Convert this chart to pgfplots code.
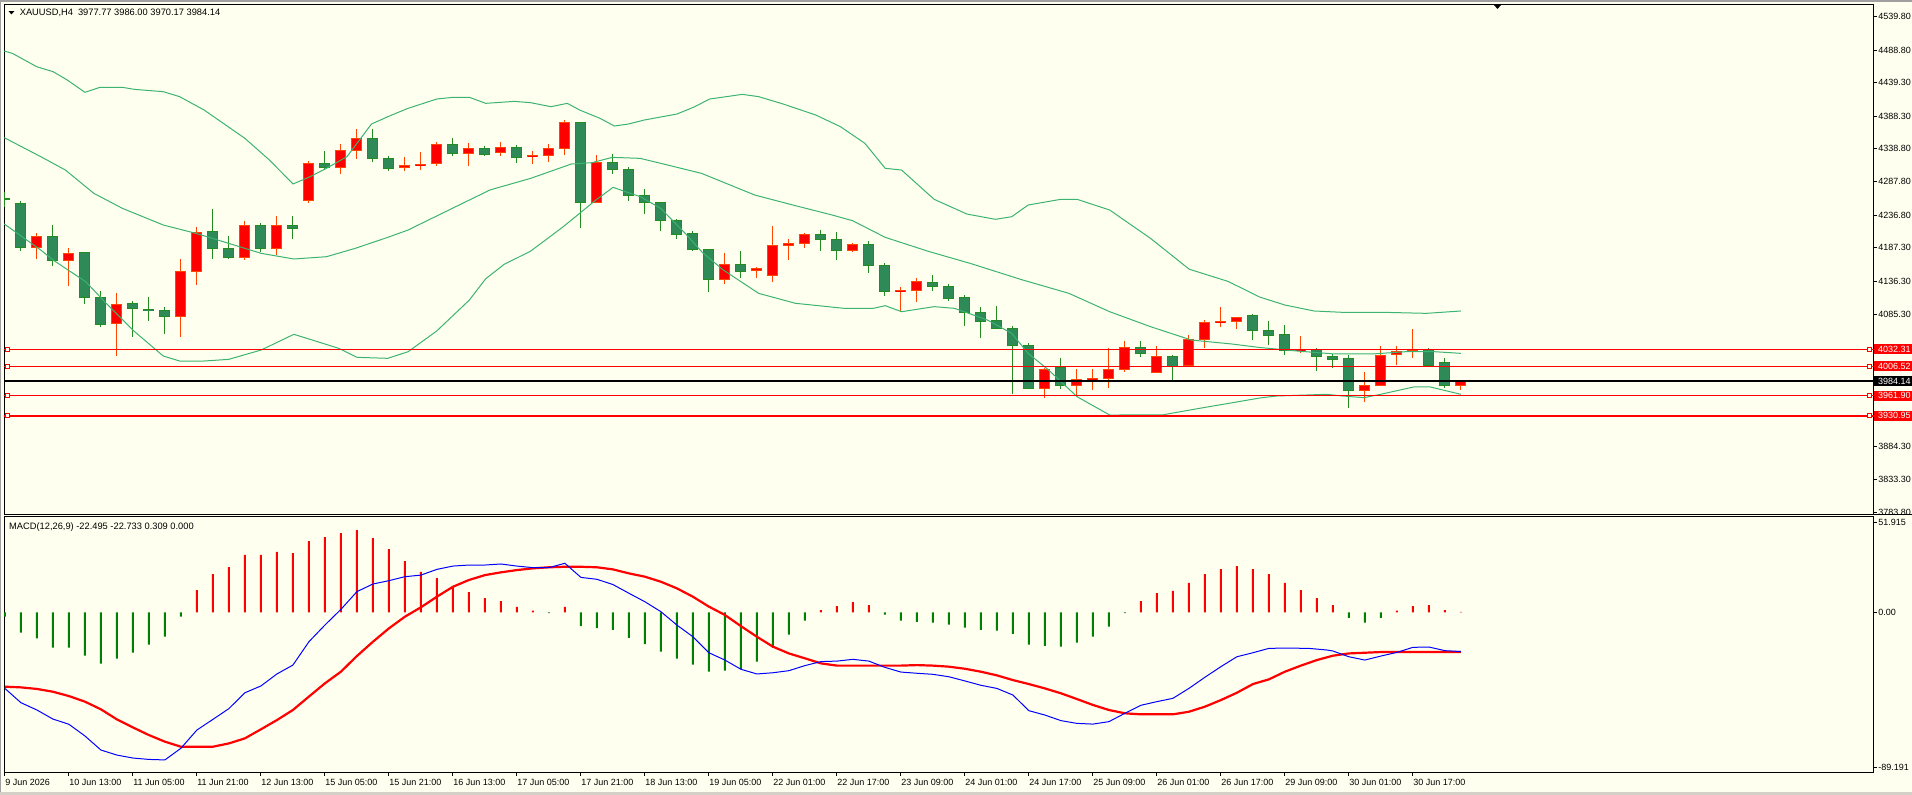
\documentclass[border=0pt]{standalone}
\usepackage{pgfplots}
\usepackage{pgfplotstable}
\pgfplotsset{compat=1.18}
\usepackage{fontspec}
\newfontfamily\mtfont{Liberation Sans}

\definecolor{chartbg}{HTML}{FFFFF0}
\definecolor{framegray}{HTML}{A0A0A0}
\definecolor{framelight}{HTML}{D4D0C8}
\definecolor{bbgreen}{HTML}{3CB371}
\definecolor{upfill}{HTML}{FF0000}
\definecolor{upline}{HTML}{FF4500}
\definecolor{dnfill}{HTML}{2E8B57}
\definecolor{dnline}{HTML}{228B22}
\definecolor{levelred}{HTML}{FF0000}
\definecolor{histgreen}{HTML}{008000}
\definecolor{macdblue}{HTML}{0000FF}

% H4 bars, index = bar number from 9 Jun 21:00
% bars that closed above their open
\pgfplotstableread{
i o h l c
2 4188.0 4210.3 4170.2 4204.7
4 4167.6 4186.4 4129.5 4178.8
7 4072.1 4118.3 4022.2 4101.0
11 4082.7 4170.2 4051.7 4151.4
12 4151.4 4219.5 4131.0 4210.8
15 4172.2 4228.1 4169.2 4221.5
17 4185.9 4235.8 4175.8 4221.5
19 4259.2 4319.1 4256.1 4316.1
21 4310.0 4345.6 4300.3 4335.9
22 4335.9 4368.5 4323.2 4354.7
25 4310.0 4325.7 4304.9 4313.0
26 4312.5 4333.4 4306.4 4315.0
27 4315.6 4348.1 4312.5 4345.1
29 4330.8 4346.6 4312.5 4338.9
31 4332.3 4348.6 4327.3 4341.0
33 4326.8 4334.9 4315.6 4328.8
34 4328.3 4345.6 4318.1 4339.0
35 4339.0 4382.2 4328.8 4378.6
37 4256.1 4328.3 4256.1 4318.1
45 4138.6 4179.3 4132.6 4162.0
47 4151.9 4158.5 4141.7 4156.4
48 4145.3 4220.5 4135.6 4191.0
49 4190.5 4200.7 4168.6 4194.1
50 4193.6 4209.8 4187.0 4207.8
53 4183.4 4194.6 4180.9 4192.5
56 4120.3 4127.0 4090.9 4122.9
57 4121.9 4141.2 4105.1 4136.1
65 3972.4 4003.9 3958.7 4001.9
67 3977.5 4002.4 3962.2 3986.6
68 3986.1 4002.4 3970.4 3988.7
69 3987.6 4033.9 3973.4 4001.9
70 4001.4 4045.1 3997.8 4035.4
72 3997.3 4037.0 3997.3 4021.7
74 4007.5 4053.7 4007.5 4047.6
75 4047.6 4077.6 4034.9 4074.1
76 4073.6 4097.0 4066.5 4075.6
77 4075.1 4080.7 4063.9 4080.7
81 4030.4 4052.7 4027.3 4032.4
85 3969.4 3997.8 3952.6 3977.5
86 3977.5 4037.0 3977.5 4023.2
87 4024.8 4037.0 4008.5 4028.8
88 4028.8 4063.4 4019.7 4031.4
91 3977.77 3986.00 3970.17 3984.14
}\upbars

% bars that closed below their open
\pgfplotstableread{
i o h l c
0 4262.0 4272.9 4250.0 4261.0
1 4255.6 4258.1 4182.9 4188.0
3 4204.7 4222.0 4160.0 4167.6
5 4180.8 4181.5 4101.0 4111.2
6 4112.2 4121.4 4067.0 4070.0
8 4103.1 4106.1 4051.7 4094.4
9 4093.4 4112.2 4076.1 4091.4
10 4091.9 4097.0 4056.3 4082.7
13 4212.9 4246.4 4170.7 4185.9
14 4186.4 4204.7 4170.2 4172.2
16 4221.5 4225.1 4180.9 4185.9
18 4221.5 4235.8 4201.2 4216.4
20 4316.6 4334.9 4306.9 4309.5
23 4354.7 4368.5 4318.1 4323.2
24 4323.7 4326.8 4304.9 4308.0
28 4345.1 4354.7 4327.8 4330.8
30 4339.5 4342.5 4327.3 4328.8
32 4341.0 4344.1 4316.6 4324.7
36 4378.6 4378.6 4218.0 4256.1
38 4317.6 4330.3 4300.3 4306.4
39 4307.0 4310.0 4259.2 4266.8
40 4266.8 4276.9 4239.3 4256.1
41 4256.6 4256.6 4213.4 4228.6
42 4229.1 4231.7 4201.2 4207.3
43 4209.3 4212.9 4182.9 4184.9
44 4184.9 4186.0 4120.3 4138.6
46 4162.0 4182.4 4141.7 4150.9
51 4207.8 4214.4 4182.9 4199.7
52 4200.7 4211.4 4168.6 4182.9
54 4192.5 4197.6 4149.3 4160.0
55 4160.5 4163.6 4114.2 4120.3
58 4134.6 4145.8 4121.3 4128.0
59 4129.0 4132.0 4106.6 4109.7
60 4112.2 4115.3 4068.0 4088.3
61 4089.3 4096.5 4050.2 4074.6
62 4076.6 4098.5 4063.9 4063.9
63 4065.0 4067.5 3964.3 4038.0
64 4038.5 4041.5 3972.4 3972.4
66 4005.4 4018.7 3971.4 3977.0
71 4035.4 4045.1 4020.7 4025.8
73 4021.7 4023.7 3983.1 4006.5
78 4084.3 4086.3 4047.1 4061.4
79 4061.4 4075.6 4039.0 4053.2
80 4055.3 4069.5 4023.8 4030.9
82 4031.9 4034.9 4000.0 4021.2
83 4021.7 4024.8 4004.4 4017.1
84 4018.7 4023.8 3943.4 3969.4
89 4031.9 4033.9 4007.0 4007.0
90 4012.6 4019.7 3973.9 3977.0
}\downbars

\pgfplotsset{
  mtpanel/.style={
    scale only axis, anchor=south west, width=1869.55pt,
    xmin=-0.04375, xmax=116.803,
    axis line style={black, line width=1pt},
    clip mode=individual,
    tick align=outside,
    ytick pos=right, yticklabel pos=right,
    major tick length=3.5pt,
    tick style={black, line width=0.8pt},
    tick label style={font=\mtfont\fontsize{9}{10}\selectfont, inner sep=0pt, text=black},
    yticklabel style={anchor=west, xshift=1pt},
  },
  errcol/.style 2 args={draw=none, mark=none,
    error bars/y dir=plus, error bars/y explicit, error bars/error mark=none,
    error bars/error bar style={draw=#1, line width=#2}},
  bb/.style={bbgreen, line width=1pt, mark=none},
  level/.style={levelred, line width=1.3pt, mark=none},
  levelsq/.style={only marks, mark=square*, mark size=2pt,
    mark options={draw=levelred, fill=chartbg, line width=0.9pt}},
}
\tikzset{
  pricebox/.style={anchor=west, inner xsep=4.2pt, inner ysep=0pt, minimum height=10pt,
    text=white, font=\mtfont\fontsize{9}{10}\selectfont},
}

\begin{document}
\begin{tikzpicture}[x=1pt,y=1pt]
\useasboundingbox (0,0) rectangle (1912,795);
\fill[chartbg] (0,0) rectangle (1912,795);
% window frame
\fill[framegray] (0,793.3) rectangle (1912,795);
\fill[framegray] (0,0) rectangle (1.4,795);
\fill[framelight] (0,0) rectangle (1912,2.6);

% ---------- price window ----------
\begin{axis}[mtpanel, at={(4.2pt,280pt)}, height=510.7pt,
  ymin=3779.74, ymax=4558.67,
  xtick=\empty,
  ytick={3783.8,3833.3,3884.3,4085.3,4136.3,4187.3,4236.8,4287.8,4338.8,4388.3,4439.3,4488.8,4539.8},
  yticklabels={3783.80,3833.30,3884.30,4085.30,4136.30,4187.30,4236.80,4287.80,4338.80,4388.30,4439.30,4488.80,4539.80},
]
% wicks
\addplot[errcol={upline}{1pt}] table[x=i, y=l, y error plus expr=\thisrow{h}-\thisrow{l}] {\upbars};
\addplot[errcol={dnline}{1pt}] table[x=i, y=l, y error plus expr=\thisrow{h}-\thisrow{l}] {\downbars};
% bodies: outline, then fill
\addplot[errcol={upline}{11pt}] table[x=i, y expr=\thisrow{o}-0.6, y error plus expr=\thisrow{c}-\thisrow{o}+1.2] {\upbars};
\addplot[errcol={upfill}{9pt}] table[x=i, y expr=\thisrow{o}+0.9, y error plus expr={max(\thisrow{c}-\thisrow{o}-1.8,0)}] {\upbars};
\addplot[errcol={dnline}{11pt}] table[x=i, y expr=\thisrow{c}-0.6, y error plus expr=\thisrow{o}-\thisrow{c}+1.2] {\downbars};
\addplot[errcol={dnfill}{9pt}] table[x=i, y expr=\thisrow{c}+0.9, y error plus expr={max(\thisrow{o}-\thisrow{c}-1.8,0)}] {\downbars};

% Bollinger bands
\addplot[bb] coordinates {(-0.04,4487.4) (0.46,4483.9) (1.99,4463.5) (3.01,4455.9) (3.9,4443.2) (5,4424.4) (5.94,4432) (7.35,4432) (8.11,4428.9) (9.9,4425.4) (10.92,4417.8) (12.45,4397.4) (15,4354.2) (16.53,4321.2) (18.01,4284.6) (19.08,4295.8) (20.1,4308.5) (21.38,4326.3) (22.91,4376.1) (24.18,4389.8) (25.2,4400) (26.99,4414.2) (28.01,4416.8) (29.03,4416.8) (30.05,4407.6) (31.84,4410.6) (32.86,4408.6) (34.13,4402.5) (35.15,4407.6) (35.92,4397.4) (37.2,4384.7) (38.09,4373) (38.98,4376.1) (39.97,4382.2) (42,4391.3) (43.03,4401.5) (44.05,4414.2) (46.09,4421.3) (47.11,4417.8) (48.64,4406.6) (50.68,4389.8) (52.22,4372) (53.75,4346.6) (55.02,4308.5) (56.04,4305.9) (58.08,4261.2) (60.12,4238.8) (61.91,4230.7) (62.93,4234.7) (63.95,4252.5) (65.99,4261.2) (67.01,4261.2) (69.05,4244.9) (71.6,4201.7) (74.02,4154.6) (76.45,4136) (78.44,4112) (80,4100) (81.82,4090.9) (83.64,4088.8) (86.24,4088.8) (88.84,4087.3) (91,4090.9)};
\addplot[bb] coordinates {(-0.04,4355.2) (2.24,4326.3) (3.78,4305.9) (5.56,4270.3) (7.35,4247.4) (9.9,4222) (11.94,4209.3) (13.98,4194.1) (16.02,4178.8) (18.06,4170.2) (20.1,4173.7) (21.89,4186.4) (23.93,4203.2) (25.2,4214.4) (27.75,4244.9) (30.31,4275.4) (32.86,4293.2) (35.41,4315.1) (36.69,4317.1) (37.96,4325.2) (39.7,4323.7) (40.99,4316.1) (43.54,4300.8) (46.86,4267.8) (49.41,4251.5) (51.7,4237.3) (52.98,4228.6) (55.02,4203.2) (57.7,4182) (60.4,4163) (63.5,4139) (66.5,4117.8) (69.05,4089.8) (71.6,4067) (74.15,4046.6) (76.7,4040.5) (78.44,4035.2) (80.78,4029.8) (83.12,4025.3) (85.46,4025.3) (87.54,4028.8) (89.35,4028.8) (91,4026.3)};
\addplot[bb] coordinates {(-0.04,4223.6) (2.24,4183.9) (3.01,4168.6) (5.05,4135.6) (6.33,4102.6) (8.11,4059.3) (9.9,4022.2) (10.92,4014.6) (12.45,4014.6) (13.98,4017.1) (16.02,4031.4) (18.06,4055.3) (19.08,4047.6) (20.87,4033.9) (22.01,4020.2) (23.93,4018.7) (25.2,4028.8) (26.99,4060.4) (29.03,4107.6) (30.05,4140) (31.2,4162) (32.86,4182.2) (34.9,4219.5) (35.92,4239.8) (36.94,4260.2) (38.01,4279.5) (38.98,4271.3) (39.72,4265.2) (40.99,4247.4) (42.52,4209.3) (43.6,4180) (44.9,4153.4) (47.11,4117.8) (49.41,4102.6) (52.47,4094.9) (54.26,4094.9) (55.02,4099) (56.04,4089.8) (58.08,4097.5) (59.36,4094.9) (61.4,4077.2) (62.93,4056.8) (63.95,4026.3) (65.23,4000.9) (67.01,3960.2) (69.05,3932.2) (72.37,3932.5) (74.66,3942.4) (78.44,3958.2) (79.48,3961.2) (82.6,3963.8) (83.64,3961.2) (84.94,3958.7) (85.98,3963.8) (88.05,3975) (89.09,3975) (89.87,3970.4) (91,3963.8)};

% horizontal levels
\addplot[level] coordinates {(-1,4032.31) (118,4032.31)};
\addplot[level] coordinates {(-1,4006.52) (118,4006.52)};
\addplot[level] coordinates {(-1,3961.90) (118,3961.90)};
\addplot[level] coordinates {(-1,3930.95) (118,3930.95)};
\addplot[levelsq] coordinates {(0.15,4032.31) (116.54,4032.31) (0.15,4006.52) (116.54,4006.52) (0.15,3961.90) (116.54,3961.90) (0.15,3930.95) (116.54,3930.95)};
% bid line
\addplot[black, line width=1.2pt, mark=none] coordinates {(-1,3984.14) (118,3984.14)};

\node[pricebox, fill=levelred] at ({rel axis cs:1,0}|-{axis cs:0,4032.31}) {4032.31};
\node[pricebox, fill=levelred] at ({rel axis cs:1,0}|-{axis cs:0,4006.52}) {4006.52};
\node[pricebox, fill=black]    at ({rel axis cs:1,0}|-{axis cs:0,3984.14}) {3984.14};
\node[pricebox, fill=levelred] at ({rel axis cs:1,0}|-{axis cs:0,3961.90}) {3961.90};
\node[pricebox, fill=levelred] at ({rel axis cs:1,0}|-{axis cs:0,3930.95}) {3930.95};
\end{axis}

% ---------- MACD window ----------
\begin{axis}[mtpanel, at={(4.2pt,22.7pt)}, height=255.3pt,
  ymin=-91.9, ymax=54.8,
  ytick={-89.191,0,51.915}, yticklabels={-89.191,0.00,51.915},
  xtick={0,4,...,88}, xtick pos=bottom, xticklabel pos=bottom,
  xticklabels={9 Jun 2026,10 Jun 13:00,11 Jun 05:00,11 Jun 21:00,12 Jun 13:00,15 Jun 05:00,15 Jun 21:00,16 Jun 13:00,17 Jun 05:00,17 Jun 21:00,18 Jun 13:00,19 Jun 05:00,22 Jun 01:00,22 Jun 17:00,23 Jun 09:00,24 Jun 01:00,24 Jun 17:00,25 Jun 09:00,26 Jun 01:00,26 Jun 17:00,29 Jun 09:00,30 Jun 01:00,30 Jun 17:00},
  xticklabel style={anchor=base west, yshift=-9.9pt, xshift=0.2pt},
]
% histogram
\addplot[ybar, bar width=2pt, bar shift=0pt, fill=histgreen, draw=none] coordinates {(0,-2.5) (1,-11.7) (2,-14.9) (3,-20.3) (4,-20.3) (5,-24.9) (6,-29.5) (7,-26.6) (8,-23.2) (9,-18.6) (10,-14.0) (11,-2.5) (34,-0.5) (36,-7.9) (37,-9.0) (38,-10.1) (39,-14.6) (40,-18.2) (41,-22.6) (42,-26.6) (43,-30.1) (44,-34.1) (45,-33.5) (46,-32.4) (47,-28.3) (48,-20.3) (49,-12.8) (50,-4.8) (55,-1.3) (56,-4.8) (57,-5.4) (58,-5.9) (59,-7.1) (60,-8.8) (61,-10.0) (62,-10.5) (63,-12.3) (64,-18.6) (65,-19.2) (66,-19.7) (67,-17.4) (68,-14.0) (69,-8.2) (70,-0.5) (84,-3.1) (85,-5.9) (86,-3.1)};
\addplot[ybar, bar width=2pt, bar shift=0pt, fill=levelred, draw=none] coordinates {(12,12.8) (13,22.0) (14,26.0) (15,33.1) (16,33.1) (17,34.7) (18,34.1) (19,41.0) (20,43.3) (21,45.6) (22,47.3) (23,42.7) (24,36.4) (25,29.5) (26,23.2) (27,19.7) (28,14.9) (29,11.7) (30,8.2) (31,6.5) (32,3.1) (33,1.0) (35,3.1) (51,1.3) (52,3.6) (53,5.9) (54,4.2) (71,6.5) (72,11.1) (73,12.3) (74,16.9) (75,22.0) (76,24.9) (77,26.6) (78,24.9) (79,22.0) (80,16.9) (81,12.8) (82,8.2) (83,4.2) (87,1.0) (88,3.6) (89,4.2) (90,1.3) (91,0.309)};
% signal line
\addplot[levelred, line width=2.2pt, mark=none] coordinates {(0,-42.7) (1,-43.1) (2,-44.0) (3,-45.6) (4,-48.1) (5,-51.3) (6,-55.7) (7,-61.5) (8,-66.1) (9,-70.5) (10,-74.3) (11,-77.2) (12,-77.2) (13,-77.2) (14,-75.3) (15,-72.4) (16,-67.2) (17,-61.9) (18,-56.1) (19,-48.4) (20,-40.8) (21,-34.1) (22,-25.1) (23,-16.9) (24,-9.2) (25,-2.5) (26,2.9) (27,9.0) (28,14.7) (29,18.6) (30,21.4) (31,23.0) (32,24.3) (33,25.3) (34,25.9) (35,26.2) (36,26.2) (37,25.9) (38,24.7) (39,22.4) (40,20.5) (41,17.6) (42,13.8) (43,9.0) (44,3.3) (45,-1.5) (46,-7.9) (47,-14.0) (48,-19.7) (49,-23.6) (50,-26.4) (51,-29.3) (52,-30.6) (53,-30.6) (54,-30.6) (55,-30.6) (56,-30.6) (57,-30.3) (58,-30.6) (59,-31.2) (60,-32.4) (61,-34.1) (62,-36.2) (63,-38.9) (64,-41.2) (65,-43.7) (66,-46.5) (67,-49.8) (68,-53.2) (69,-56.1) (70,-58.0) (71,-58.6) (72,-58.6) (73,-58.6) (74,-57.1) (75,-54.2) (76,-50.4) (77,-46.2) (78,-41.2) (79,-38.5) (80,-34.1) (81,-30.6) (82,-27.4) (83,-24.9) (84,-23.6) (85,-23.2) (86,-22.8) (87,-22.8) (88,-22.8) (89,-22.8) (90,-22.8) (91,-22.733)};
% MACD line
\addplot[macdblue, line width=1pt, mark=none] coordinates {(0,-43.7) (1,-51.9) (2,-56.1) (3,-61.3) (4,-64.3) (5,-71.0) (6,-79.1) (7,-82.0) (8,-83.7) (9,-84.5) (10,-84.8) (11,-78.1) (12,-67.6) (13,-61.5) (14,-55.3) (15,-46.2) (16,-42.3) (17,-35.4) (18,-30.3) (19,-16.9) (20,-7.3) (21,1.7) (22,11.9) (23,16.3) (24,18.2) (25,20.5) (26,21.4) (27,24.7) (28,26.6) (29,27.2) (30,27.2) (31,27.8) (32,26.6) (33,25.7) (34,25.7) (35,28.2) (36,20.1) (37,19.0) (38,16.0) (39,11.0) (40,6.1) (41,0.4) (42,-7.3) (43,-14.0) (44,-23.2) (45,-27.4) (46,-32.7) (47,-35.4) (48,-34.7) (49,-33.5) (50,-30.6) (51,-28.3) (52,-28.0) (53,-27.0) (54,-28.0) (55,-31.6) (56,-34.3) (57,-35.0) (58,-35.6) (59,-37.0) (60,-39.4) (61,-41.9) (62,-43.7) (63,-47.5) (64,-56.5) (65,-59.0) (66,-62.2) (67,-63.8) (68,-64.2) (69,-62.8) (70,-58.0) (71,-53.4) (72,-51.3) (73,-49.4) (74,-43.7) (75,-37.3) (76,-31.2) (77,-25.5) (78,-23.2) (79,-20.7) (80,-20.5) (81.5,-20.7) (82.6,-21.6) (83,-22.2) (84,-25.5) (85,-27.4) (86,-25.1) (87,-23.0) (88,-20.1) (89,-19.9) (90,-22.0) (91,-22.495)};
\end{axis}

% separator under the price window reaching the scale
\draw[black, line width=1pt] (1873.75,280) -- (1912,280);
% shift marker and window headers
\fill[black] (1493.8,790.2) -- (1501.2,790.2) -- (1497.5,786) -- cycle;
\fill[black] (8.6,783.8) -- (14.3,783.8) -- (11.45,780.6) -- cycle;
\node[anchor=base west, inner sep=0pt, font=\mtfont\fontsize{9.3}{10}\selectfont] at (19.6,779)
  {XAUUSD,H4\hspace{5pt}3977.77 3986.00 3970.17 3984.14};
\node[anchor=base west, inner sep=0pt, font=\mtfont\fontsize{9.3}{10}\selectfont] at (9,265)
  {MACD(12,26,9) -22.495 -22.733 0.309 0.000};
\end{tikzpicture}
\end{document}
